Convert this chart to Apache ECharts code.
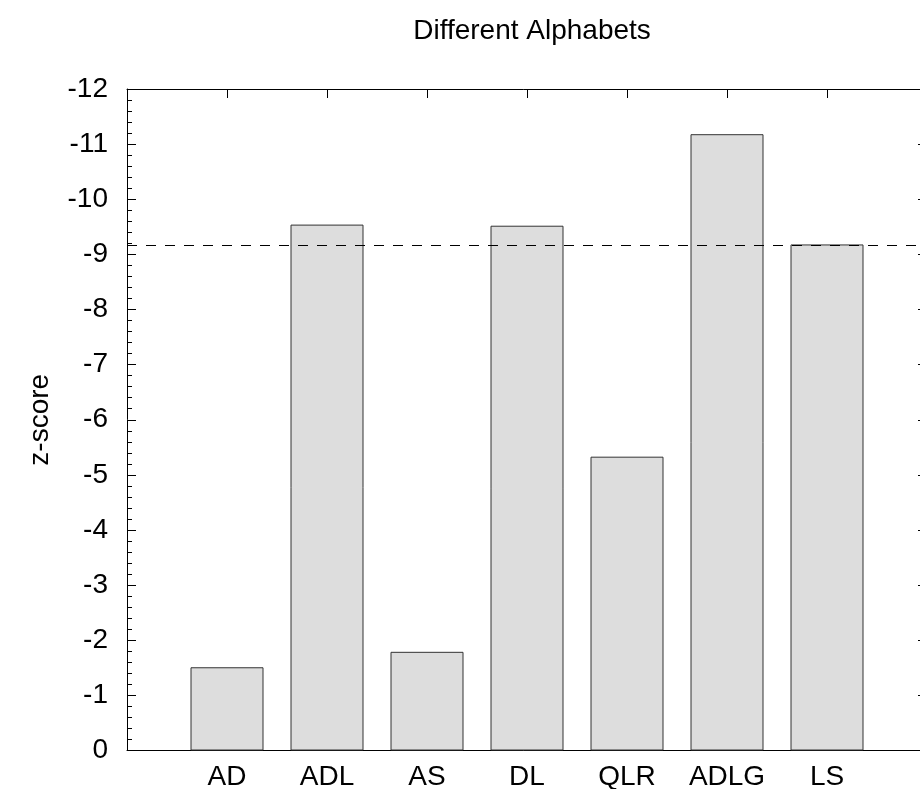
<!DOCTYPE html>
<html>
<head>
<meta charset="utf-8">
<script src="https://cdn.jsdelivr.net/npm/echarts@6/dist/echarts.min.js"></script>
<style>html,body{margin:0;padding:0;background:#fff;}#chart{width:920px;height:789px;}</style>
</head>
<body>
<div id="chart"></div>
<script>
// Alphabet variants and their z-scores
const categories = ['AD', 'ADL', 'AS', 'DL', 'QLR', 'ADLG', 'LS'];
const zScores = [-1.51, -9.54, -1.79, -9.52, -5.33, -11.18, -9.18];
const threshold = -9.17;
const yTicks = [0, -1, -2, -3, -4, -5, -6, -7, -8, -9, -10, -11, -12];

const FONT = '"Liberation Sans", Arial, sans-serif';
const FONT_SIZE = 28;
const positions = categories.map((_, i) => i + 1);
const barData = categories.map((_, i) => [positions[i], zScores[i]]);

const chart = echarts.init(document.getElementById('chart'), null, { renderer: 'canvas' });

const xBase = {
  type: 'value', min: 0, max: 8, interval: 1,
  axisLine: { show: true, onZero: false, lineStyle: { color: '#000', width: 1 } },
  splitLine: { show: false },
  axisTick: { show: true, inside: true, length: 9, customValues: positions, lineStyle: { color: '#000' } }
};
const yBase = {
  type: 'value', min: -12, max: 0, interval: 1, inverse: true,
  axisLine: { show: true, onZero: false, lineStyle: { color: '#000', width: 1 } },
  splitLine: { show: false },
  axisTick: { show: true, inside: true, length: 9, lineStyle: { color: '#000' } },
  minorTick: { show: true, splitNumber: 5, length: 5, lineStyle: { color: '#000' } }
};

chart.setOption({
  animation: false,
  backgroundColor: '#fff',
  title: {
    text: 'Different Alphabets',
    left: 527, top: 12, textAlign: 'center',
    textStyle: { fontFamily: FONT, fontSize: FONT_SIZE, fontWeight: 'normal', color: '#000' }
  },
  grid: { left: 127, right: -7, top: 89, bottom: 38.5, containLabel: false, outerBoundsMode: 'none' },
  xAxis: [
    Object.assign({}, xBase, {
      position: 'bottom',
      axisLabel: {
        show: true, margin: 13, customValues: positions,
        fontFamily: FONT, fontSize: FONT_SIZE, color: '#000',
        formatter: v => categories[v - 1] || ''
      }
    }),
    Object.assign({}, xBase, { position: 'top', axisLabel: { show: false } })
  ],
  yAxis: [
    Object.assign({}, yBase, {
      position: 'left',
      name: 'z-score', nameLocation: 'middle', nameGap: 73, nameRotate: 90,
      nameTextStyle: { fontFamily: FONT, fontSize: FONT_SIZE, color: '#000' },
      axisLabel: {
        show: true, margin: 19, customValues: yTicks,
        fontFamily: FONT, fontSize: FONT_SIZE, color: '#000'
      }
    }),
    Object.assign({}, yBase, { position: 'right', axisLabel: { show: false } })
  ],
  series: [{
    type: 'bar',
    xAxisIndex: 0, yAxisIndex: 0,
    data: barData,
    barWidth: 73,
    itemStyle: { color: '#dddddd', borderColor: '#333', borderWidth: 1 },
    markLine: {
      silent: true, symbol: 'none',
      label: { show: false },
      lineStyle: { color: '#000', width: 1, type: [10, 9] },
      data: [{ yAxis: threshold }]
    }
  }]
});
</script>
</body>
</html>
